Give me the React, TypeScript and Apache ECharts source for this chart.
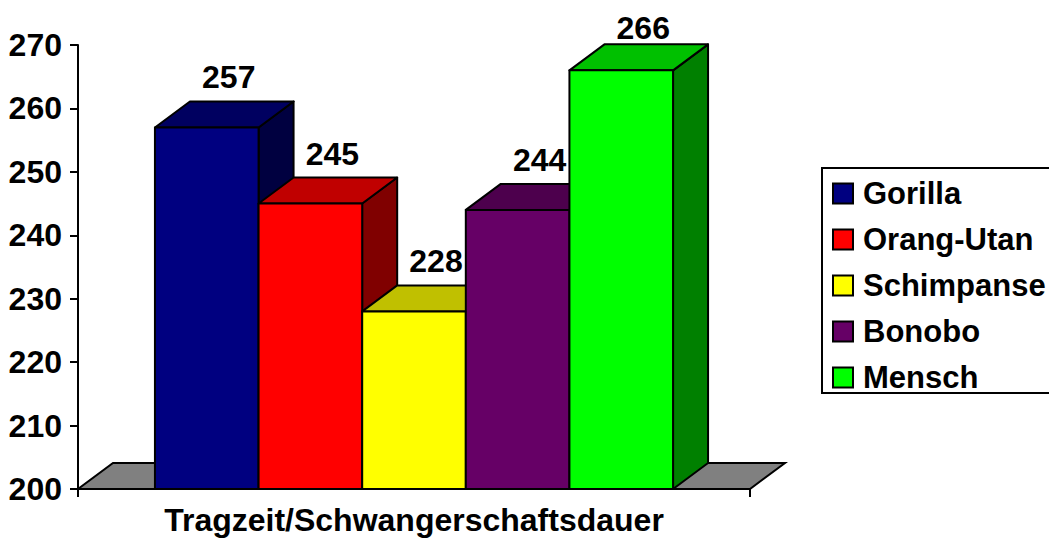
import React, { useEffect, useRef } from "react";
import * as echarts from "echarts";

const categories = ["Tragzeit/Schwangerschaftsdauer"];
const speciesNames = ["Gorilla", "Orang-Utan", "Schimpanse", "Bonobo", "Mensch"];
const gestationDays = [257, 245, 228, 244, 266];
const yTickLabels = [200, 210, 220, 230, 240, 250, 260, 270];

const frontColors = ["#000080", "#FF0000", "#FFFF00", "#660066", "#00FF00"];
const topColors = ["#000060", "#C00000", "#C0C000", "#4D004D", "#00C000"];
const sideColors = ["#000040", "#800000", "#808000", "#330033", "#008000"];

const DX = 35;
const DY = 26;
const GROUP_RATIO = 0.771;
const FONT = "Liberation Sans, Arial, sans-serif";
const Y_MIN = yTickLabels[0];
const Y_MAX = yTickLabels[yTickLabels.length - 1];
const CANVAS_W = 1075;

export default function App() {
  const ref = useRef<HTMLDivElement>(null);
  useEffect(() => {
    if (!ref.current) return;
    const chart = echarts.init(ref.current, undefined, { renderer: "svg" });
    const n = speciesNames.length;

    const floorSeries: any = {
      type: "custom",
      name: "floor",
      silent: true,
      clip: false,
      z: 1,
      data: [[0, Y_MIN]],
      renderItem: (params: any, api: any) => {
        const [cx, y0] = api.coord([0, Y_MIN]);
        const band = api.size([1, 0])[0];
        const x0 = cx - band / 2;
        const x1 = cx + band / 2;
        return {
          type: "polygon",
          shape: {
            points: [
              [x0, y0],
              [x1, y0],
              [x1 + DX, y0 - DY],
              [x0 + DX, y0 - DY],
            ],
          },
          style: { fill: "#808080", stroke: "#000", lineWidth: 2 },
        };
      },
    };

    const barSeries: any[] = speciesNames.map((name, i) => ({
      type: "custom",
      name,
      clip: false,
      z: 2,
      itemStyle: { color: frontColors[i] },
      data: [[0, gestationDays[i]]],
      renderItem: (params: any, api: any) => {
        const val = api.value(1);
        const [cx, yTop] = api.coord([0, val]);
        const [, y0] = api.coord([0, Y_MIN]);
        const band = api.size([1, 0])[0];
        const groupW = band * GROUP_RATIO;
        const bw = groupW / n;
        const L = cx - groupW / 2 + i * bw;
        const R = L + bw;
        const stroke = { stroke: "#000", lineWidth: 2, lineJoin: "round" };
        const labelY = Math.max(yTop - DY - 24, 28);
        return {
          type: "group",
          children: [
            {
              type: "polygon",
              shape: {
                points: [
                  [R, yTop],
                  [R + DX, yTop - DY],
                  [R + DX, y0 - DY],
                  [R, y0],
                ],
              },
              style: { fill: sideColors[i], ...stroke },
            },
            {
              type: "polygon",
              shape: {
                points: [
                  [L, yTop],
                  [R, yTop],
                  [R + DX, yTop - DY],
                  [L + DX, yTop - DY],
                ],
              },
              style: { fill: topColors[i], ...stroke },
            },
            {
              type: "rect",
              shape: { x: L, y: yTop, width: bw, height: y0 - yTop },
              style: { fill: frontColors[i], ...stroke },
            },
            {
              type: "text",
              x: L + bw / 2 + 22,
              y: labelY,
              style: {
                text: String(val),
                fill: "#000",
                font: `bold 32px ${FONT}`,
                align: "center",
                verticalAlign: "middle",
              },
            },
          ],
        };
      },
    }));

    chart.setOption({
      animation: false,
      backgroundColor: "#fff",
      textStyle: { fontFamily: FONT },
      grid: { left: 78, top: 45, right: CANVAS_W - 750, bottom: 49, containLabel: false },
      legend: {
        orient: "vertical",
        left: 822,
        top: 168,
        data: speciesNames,
        icon: "rect",
        itemWidth: 20,
        itemHeight: 20,
        itemGap: 15,
        padding: [10, 24, 0, 10],
        borderColor: "#000",
        borderWidth: 2,
        backgroundColor: "#fff",
        itemStyle: { borderColor: "#000", borderWidth: 2 },
        textStyle: {
          color: "#000",
          fontWeight: "bold",
          fontSize: 31,
          fontFamily: FONT,
          padding: [0, 0, 0, 5],
        },
        selectedMode: false,
      },
      xAxis: {
        type: "category",
        data: categories,
        boundaryGap: true,
        axisLine: { lineStyle: { color: "#000", width: 2 } },
        axisTick: { show: true, length: 8, lineStyle: { color: "#000", width: 2 } },
        axisLabel: {
          color: "#000",
          fontWeight: "bold",
          fontSize: 32,
          fontFamily: FONT,
          margin: 15,
        },
        splitLine: { show: false },
      },
      yAxis: {
        type: "value",
        min: Y_MIN,
        max: Y_MAX,
        interval: 10,
        axisLine: { show: true, lineStyle: { color: "#000", width: 2 } },
        axisTick: { show: true, length: 8, lineStyle: { color: "#000", width: 2 } },
        axisLabel: {
          color: "#000",
          fontWeight: "bold",
          fontSize: 32,
          fontFamily: FONT,
          margin: 16,
        },
        splitLine: { show: false },
      },
      series: [floorSeries, ...barSeries],
    });
    return () => chart.dispose();
  }, []);

  return (
    <div
      style={{
        position: "fixed",
        left: 0,
        top: 0,
        width: 1049,
        height: 538,
        overflow: "hidden",
        background: "#fff",
      }}
    >
      <div ref={ref} style={{ width: CANVAS_W, height: 538 }} />
    </div>
  );
}
